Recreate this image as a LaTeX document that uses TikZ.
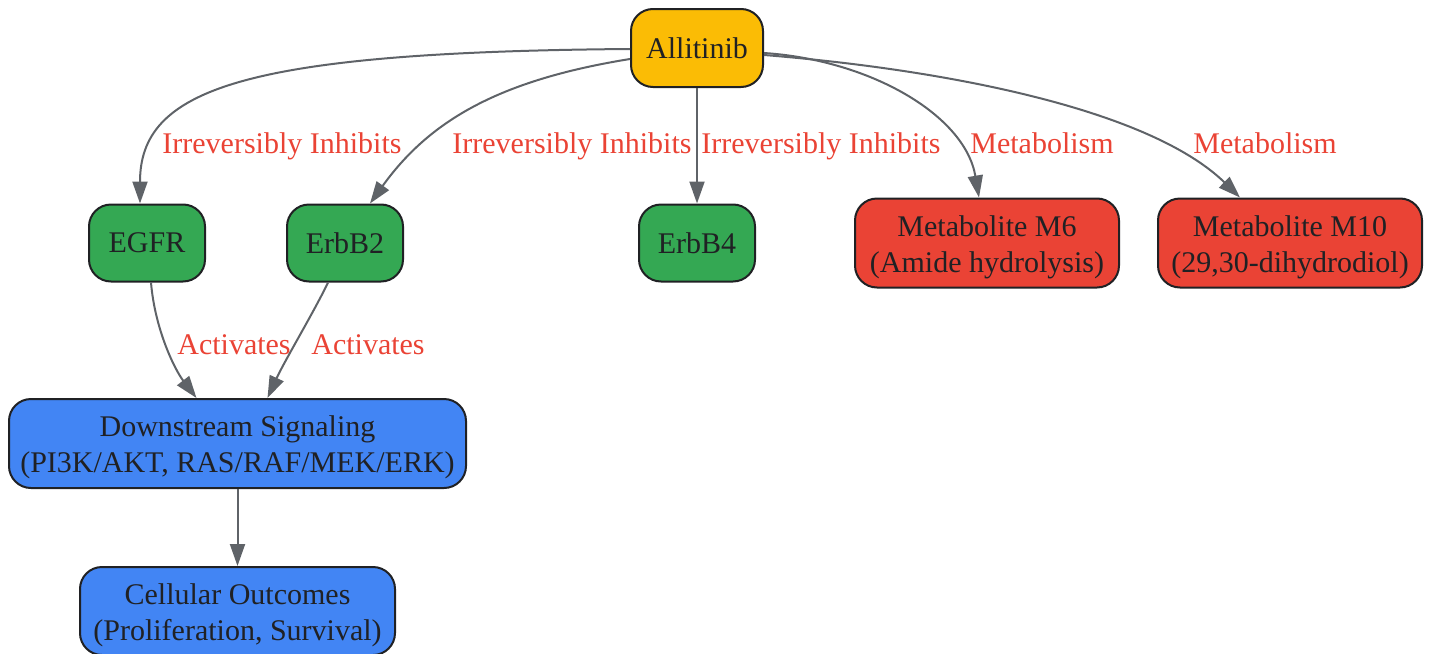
\documentclass[tikz,border=0pt]{standalone}
\usepackage{fontspec}
\setmainfont{Liberation Serif}
\usetikzlibrary{arrows.meta}
\definecolor{cyel}{HTML}{FBBC05}
\definecolor{cgrn}{HTML}{34A853}
\definecolor{cred}{HTML}{EA4335}
\definecolor{cblu}{HTML}{4285F4}
\definecolor{cedge}{HTML}{5F6368}
\definecolor{ctext}{HTML}{202124}
\newcommand{\topstrut}{\rule{0pt}{29pt}}
\tikzset{
  box/.style={draw=ctext, line width=2pt, rounded corners=22pt, align=center,
    text=ctext, inner sep=0pt, font=\fontsize{30}{36}\selectfont},
  edge/.style={draw=cedge, line width=2pt, -{Triangle[length=22pt,width=15pt]}},
  lbl/.style={text=cred, font=\fontsize{30}{36}\selectfont, inner sep=0pt, anchor=base},
}
\begin{document}
\begin{tikzpicture}[x=1pt,y=-1pt]
\useasboundingbox (0,0) rectangle (1431,653);
\node[box, fill=cyel, minimum width=132pt, minimum height=78pt] (all) at (697,48) {Allitinib};
\node[box, fill=cgrn, minimum width=116pt, minimum height=77pt] (egfr) at (147,243) {EGFR};
\node[box, fill=cgrn, minimum width=116pt, minimum height=77pt] (erb2) at (345,243) {ErbB2};
\node[box, fill=cgrn, minimum width=116pt, minimum height=77pt] (erb4) at (697,243) {ErbB4};
\node[box, fill=cred, minimum width=264pt, minimum height=89pt] (m6) at (987,243) {\topstrut Metabolite M6\\(Amide hydrolysis)};
\node[box, fill=cred, minimum width=264pt, minimum height=89pt] (m10) at (1290,243) {\topstrut Metabolite M10\\(29,30-dihydrodiol)};
\node[box, fill=cblu, minimum width=457pt, minimum height=89pt] (down) at (237.5,443.5) {\topstrut Downstream Signaling\\(PI3K/AKT, RAS/RAF/MEK/ERK)};
\node[box, fill=cblu, minimum width=315pt, minimum height=88pt] (cell) at (237.5,611) {\topstrut Cellular Outcomes\\(Proliferation, Survival)};

\draw[edge] ([yshift=-1pt]all.west) .. controls (240,52) and (140,90) .. ([xshift=-7pt]egfr.north);
\draw[edge] ([yshift=-11pt]all.west) .. controls (500,80) and (430,120) .. ([xshift=25pt]erb2.north);
\draw[edge] (all.south) -- (erb4.north);
\draw[edge] ([yshift=-5pt]all.east) .. controls (870,60) and (965,115) .. ([xshift=-8pt]m6.north);
\draw[edge] ([yshift=-7pt]all.east) .. controls (950,70) and (1150,110) .. ([xshift=-50pt]m10.north);
\draw[edge] ([xshift=4pt]egfr.south) .. controls (155,330) and (175,370) .. ([xshift=-41pt]down.north);
\draw[edge] ([xshift=-17pt]erb2.south) .. controls (315,310) and (285,360) .. ([xshift=30pt]down.north);
\draw[edge] (down.south) -- (cell.north);

\node[lbl] (l1) at (282,153) {Irreversibly Inhibits};
\node[lbl] (l2) at (572,153) {Irreversibly Inhibits};
\node[lbl] (l3) at (821,153) {Irreversibly Inhibits};
\node[lbl] (l4) at (1042,153) {Metabolism};
\node[lbl] (l5) at (1265,153) {Metabolism};
\node[lbl] (l6) at (234,354) {Activates};
\node[lbl] (l7) at (368,354) {Activates};
\end{tikzpicture}
\end{document}
